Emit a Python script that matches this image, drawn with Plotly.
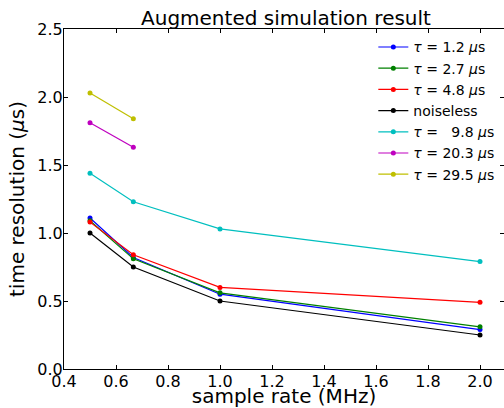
import plotly.graph_objects as go

sample_rate = [0.5, 0.6667, 1.0, 2.0]
sample_rate_short = [0.5, 0.6667]

tau_1_2 = [1.11, 0.82, 0.55, 0.29]
tau_2_7 = [1.09, 0.81, 0.56, 0.31]
tau_4_8 = [1.08, 0.84, 0.60, 0.49]
noiseless = [1.00, 0.75, 0.50, 0.25]
tau_9_8 = [1.44, 1.23, 1.03, 0.79]
tau_20_3 = [1.81, 1.63]
tau_29_5 = [2.03, 1.84]

labels = [
    "<i>τ</i> = 1.2 <i>μ</i>s",
    "<i>τ</i> = 2.7 <i>μ</i>s",
    "<i>τ</i> = 4.8 <i>μ</i>s",
    "noiseless",
    "<i>τ</i> =   9.8 <i>μ</i>s",
    "<i>τ</i> = 20.3 <i>μ</i>s",
    "<i>τ</i> = 29.5 <i>μ</i>s",
]
colors = ["#0000ff", "#008000", "#ff0000", "#000000", "#00bfbf", "#bf00bf", "#bfbf00"]

x_ticks = [0.4, 0.6, 0.8, 1.0, 1.2, 1.4, 1.6, 1.8, 2.0]
y_ticks = [0.0, 0.5, 1.0, 1.5, 2.0, 2.5]

series = [
    (sample_rate, tau_1_2),
    (sample_rate, tau_2_7),
    (sample_rate, tau_4_8),
    (sample_rate, noiseless),
    (sample_rate, tau_9_8),
    (sample_rate_short, tau_20_3),
    (sample_rate_short, tau_29_5),
]

fig = go.Figure()
for i, ((xs, ys), lab, col) in enumerate(zip(series, labels, colors)):
    fig.add_trace(go.Scatter(
        x=xs, y=ys, name=lab, mode="lines+markers",
        line=dict(color=col, width=1.2),
        marker=dict(color=col, size=5),
    ))

# dummy trace for right-side ticks
fig.add_trace(go.Scatter(x=[None], y=[None], yaxis="y2", showlegend=False, hoverinfo="skip"))

font_family = "DejaVu Sans"
fig.update_layout(
    width=504, height=408,
    margin=dict(l=64, r=0, t=29, b=39),
    paper_bgcolor="white", plot_bgcolor="white",
    font=dict(family=font_family, color="black", size=16),
    title=dict(text="Augmented simulation result", x=(286) / 504, xanchor="center",
               y=1, yref="paper", yanchor="bottom", pad=dict(b=4),
               font=dict(size=20, family=font_family, color="black")),
    xaxis=dict(range=[0.4, 0.4 + 440 / 260], tickvals=x_ticks,
               ticktext=[f"{v:.1f}" for v in x_ticks],
               ticks="inside", ticklen=4, tickcolor="black",
               showline=True, linecolor="black", linewidth=1, mirror="ticks",
               showgrid=False, zeroline=False, automargin=False,
               tickfont=dict(size=16), ticklabelstandoff=-2,
               title=dict(text="sample rate (MHz)", font=dict(size=20), standoff=8)),
    yaxis=dict(range=[0, 2.5], tickvals=y_ticks,
               ticktext=[f"{v:.1f}" for v in y_ticks],
               ticks="inside", ticklen=4, tickcolor="black",
               showline=True, linecolor="black", linewidth=1,
               showgrid=False, zeroline=False, automargin=False,
               tickfont=dict(size=16), ticklabelstandoff=-3,
               title=dict(text="time resolution (<i>μ</i>s)", font=dict(size=20), standoff=7)),
    yaxis2=dict(range=[0, 2.5], tickvals=y_ticks, overlaying="y", side="right",
                ticks="inside", ticklen=4, tickcolor="black", automargin=False,
                showline=False, showgrid=False, zeroline=False, showticklabels=False),
    legend=dict(x=0.703, y=0.993, xanchor="left", yanchor="top",
                bgcolor="rgba(0,0,0,0)", borderwidth=0,
                font=dict(size=14, family=font_family),
                tracegroupgap=0),
    showlegend=True,
)

fig.write_html("out.html")
